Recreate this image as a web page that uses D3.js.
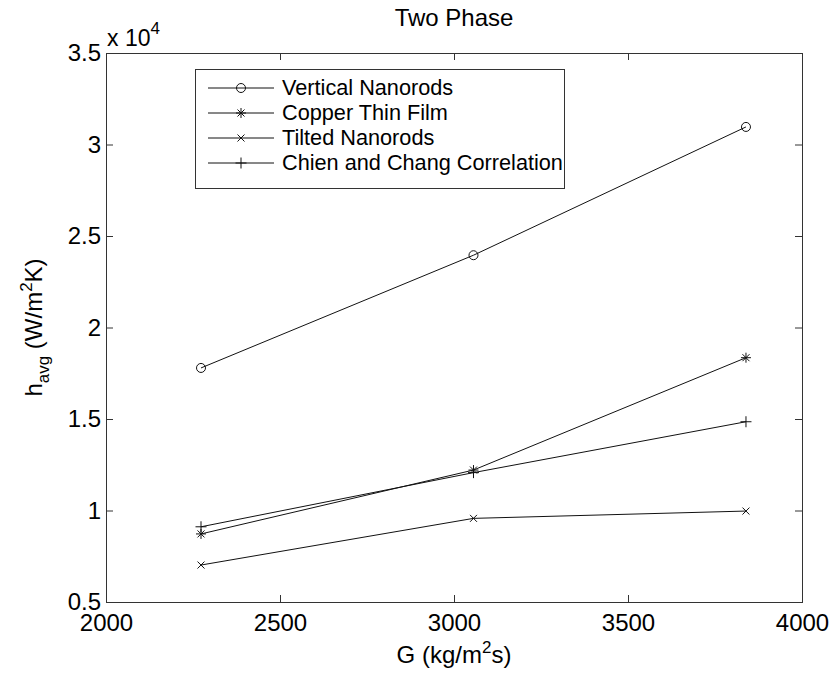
<!DOCTYPE html>
<html>
<head>
<meta charset="utf-8">
<script src="https://cdn.jsdelivr.net/npm/d3@7"></script>
<style>
  html, body { margin: 0; padding: 0; background: #fff; }
  svg { display: block; font-family: "Liberation Sans", Arial, Helvetica, sans-serif; }
</style>
</head>
<body>
<svg id="chart" width="831" height="673"></svg>
<script>
// Mass flux G (kg/m^2 s)
const massFlux = [2273, 3056, 3839];
// Average heat transfer coefficient h_avg (W/m^2 K)
const verticalNanorods = [17790, 23950, 30960];
const copperThinFilm   = [8720, 12210, 18350];
const tiltedNanorods   = [7020, 9570, 9970];
const chienChang       = [9110, 12070, 14850];

const seriesNames = ["Vertical Nanorods", "Copper Thin Film", "Tilted Nanorods", "Chien and Chang Correlation"];
const seriesValues = [verticalNanorods, copperThinFilm, tiltedNanorods, chienChang];
const seriesMarkers = ["circle", "star", "cross", "plus"];

const xTicks = [2000, 2500, 3000, 3500, 4000];
const yTicks = [5000, 10000, 15000, 20000, 25000, 30000, 35000];

const W = 831, H = 673;
const plot = { left: 106, top: 53, right: 802, bottom: 602 };
const ink = "#111";
const axisInk = "#333";

const svg = d3.select("#chart");

const x = d3.scaleLinear().domain([2000, 4000]).range([plot.left, plot.right]);
const y = d3.scaleLinear().domain([5000, 35000]).range([plot.bottom, plot.top]);

// Plot background
svg.append("rect")
  .attr("x", plot.left).attr("y", plot.top)
  .attr("width", plot.right - plot.left).attr("height", plot.bottom - plot.top)
  .attr("fill", "#fff");

// Axes with inward ticks on all four sides
function styleAxis(g) {
  g.select(".domain").remove();
  g.selectAll(".tick line").attr("stroke", axisInk).attr("stroke-width", 1);
  g.selectAll(".tick text").attr("fill", "#000").attr("font-size", 24)
    .attr("font-family", '"Liberation Sans", Arial, sans-serif');
}

svg.append("g")
  .attr("transform", `translate(0,${plot.bottom})`)
  .call(d3.axisBottom(x).tickValues(xTicks).tickSizeInner(-7).tickSizeOuter(0).tickPadding(12).tickFormat(d3.format("d")))
  .call(styleAxis);

svg.append("g")
  .attr("transform", `translate(0,${plot.top})`)
  .call(d3.axisTop(x).tickValues(xTicks).tickSizeInner(-7).tickSizeOuter(0).tickFormat(""))
  .call(styleAxis);

svg.append("g")
  .attr("transform", `translate(${plot.left},0)`)
  .call(d3.axisLeft(y).tickValues(yTicks).tickSizeInner(-7).tickSizeOuter(0).tickPadding(5)
    .tickFormat(d => d3.format("")(d / 1e4)))
  .call(styleAxis);

svg.append("g")
  .attr("transform", `translate(${plot.right},0)`)
  .call(d3.axisRight(y).tickValues(yTicks).tickSizeInner(-7).tickSizeOuter(0).tickFormat(""))
  .call(styleAxis);

// Axes box
svg.append("rect")
  .attr("x", plot.left + 0.5).attr("y", plot.top + 0.5)
  .attr("width", plot.right - plot.left).attr("height", plot.bottom - plot.top)
  .attr("fill", "none").attr("stroke", axisInk).attr("stroke-width", 1);

// Exponent label for the y axis
const expo = svg.append("text").attr("x", 107).attr("y", 46)
  .attr("font-size", 23).attr("fill", "#000");
expo.append("tspan").text("x 10");
expo.append("tspan").attr("font-size", 17).attr("dy", -12).text("4");

// Marker drawing
function drawMarker(g, type, cx, cy) {
  const m = g.append("g").attr("transform", `translate(${cx},${cy})`)
    .attr("stroke", ink).attr("stroke-width", 1).attr("fill", "none");
  if (type === "circle") {
    m.append("circle").attr("r", 4.5);
  } else if (type === "plus") {
    m.append("path").attr("d", "M-5.5,0H5.5M0,-5.5V5.5");
  } else if (type === "cross") {
    m.append("path").attr("d", "M-3.5,-3.5L3.5,3.5M-3.5,3.5L3.5,-3.5");
  } else if (type === "star") {
    m.append("path").attr("d", "M-5,0H5M0,-5V5M-3.5,-3.5L3.5,3.5M-3.5,3.5L3.5,-3.5");
  }
}

// Series lines and markers
const line = d3.line().x((d, i) => x(massFlux[i])).y(d => y(d));
seriesValues.forEach((vals, s) => {
  svg.append("path").datum(vals)
    .attr("d", line)
    .attr("fill", "none").attr("stroke", ink).attr("stroke-width", 1);
  const mg = svg.append("g");
  vals.forEach((v, i) => drawMarker(mg, seriesMarkers[s], x(massFlux[i]), y(v)));
});

// Legend
const legend = { x: 195, y: 69, w: 369, h: 119, row0: 88, rowStep: 25 };
svg.append("rect")
  .attr("x", legend.x + 0.5).attr("y", legend.y + 0.5)
  .attr("width", legend.w).attr("height", legend.h)
  .attr("fill", "#fff").attr("stroke", axisInk).attr("stroke-width", 1);
seriesNames.forEach((name, s) => {
  const ry = legend.row0 + s * legend.rowStep;
  svg.append("line").attr("x1", 208).attr("x2", 274).attr("y1", ry).attr("y2", ry)
    .attr("stroke", ink).attr("stroke-width", 1);
  drawMarker(svg, seriesMarkers[s], 241, ry);
  svg.append("text").attr("x", 282).attr("y", ry).attr("dy", "0.32em")
    .attr("font-size", 21.7).attr("fill", "#000").text(name);
});

// Title
svg.append("text").attr("x", (plot.left + plot.right) / 2).attr("y", 26)
  .attr("text-anchor", "middle").attr("font-size", 24).attr("fill", "#000")
  .text("Two Phase");

// X axis label
const xl = svg.append("text").attr("x", (plot.left + plot.right) / 2).attr("y", 663)
  .attr("text-anchor", "middle").attr("font-size", 24).attr("fill", "#000");
xl.append("tspan").text("G (kg/m");
xl.append("tspan").attr("font-size", 17).attr("dy", -10).text("2");
xl.append("tspan").attr("dy", 10).text("s)");

// Y axis label
const yl = svg.append("text")
  .attr("transform", `translate(42,${(plot.top + plot.bottom) / 2}) rotate(-90)`)
  .attr("text-anchor", "middle").attr("font-size", 24).attr("fill", "#000");
yl.append("tspan").text("h");
yl.append("tspan").attr("font-size", 17).attr("dy", 7).text("avg");
yl.append("tspan").attr("dy", -7).text(" (W/m");
yl.append("tspan").attr("font-size", 17).attr("dy", -10).text("2");
yl.append("tspan").attr("dy", 10).text("K)");
</script>
</body>
</html>
